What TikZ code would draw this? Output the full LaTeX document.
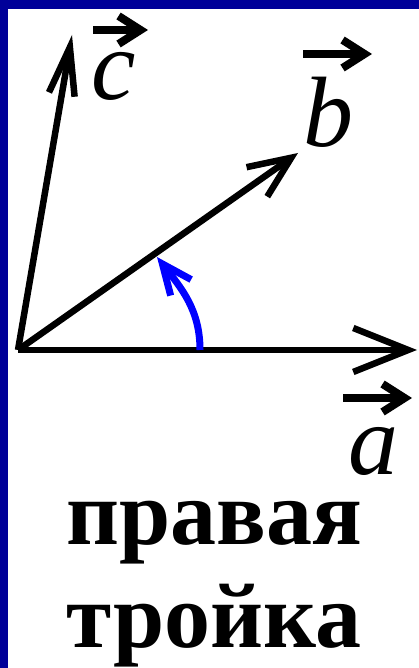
\documentclass[tikz,border=0pt]{standalone}
\usepackage{fontspec}
\setmainfont{Liberation Serif}
\usepackage{xcolor}
\usetikzlibrary{arrows.meta}
\definecolor{frameblue}{RGB}{0,0,153}
\definecolor{arcblue}{RGB}{0,0,255}

\begin{document}
\begin{tikzpicture}[
    x=1pt, y=1pt,
    vec/.style={line width=6.5pt},
    turn/.style={draw=arcblue, line width=7pt, -{Straight Barb[length=30pt,width=26pt]}},
    letter/.style={font=\fontsize{100}{100}\selectfont\itshape, inner sep=0pt},
    overarrow/.style={line width=8pt, -{Straight Barb[length=22pt,width=28pt]}},
    caption/.style={font=\fontsize{92}{92}\selectfont\bfseries, inner sep=0pt, anchor=base}
]

% Frame
\fill[frameblue] (0,0) rectangle (419,668);
\fill[white] (8,0) rectangle (419,659);
\useasboundingbox (0,0) rectangle (419,668);

% Points
\coordinate (O) at (18,318);
\coordinate (A) at (417,318);
\coordinate (B) at (298,515);
\coordinate (C) at (72,633);
\coordinate (s) at (200,318);
\coordinate (t) at (157,411);

% Vectors
\draw[vec, -{Straight Barb[length=55pt,width=44pt]}] (O) -- (A);
\draw[vec, -{Straight Barb[length=42pt,width=36pt]}] (O) -- (B);
\draw[vec, -{Straight Barb[length=48pt,width=26pt]}] (O) -- (C);
\draw[turn] (s) to[out=90, in=-52] (t);

% Labels
\node[letter] (la) at (373,217) {a};
\node[letter] (lb) at (328,556) {b};
\node[letter] (lc) at (114,592) {c};
\draw[overarrow] ([shift={(-30pt,53pt)}]la.center) -- ++(69,0);
\draw[overarrow] ([shift={(-25pt,58pt)}]lb.center) -- ++(69,0);
\draw[overarrow] ([shift={(-21pt,46pt)}]lc.center) -- ++(55,0);

% Caption
\node[caption] (w1) at (214,123) {правая};
\node[caption] (w2) at (214,20) {тройка};

\end{tikzpicture}
\end{document}
